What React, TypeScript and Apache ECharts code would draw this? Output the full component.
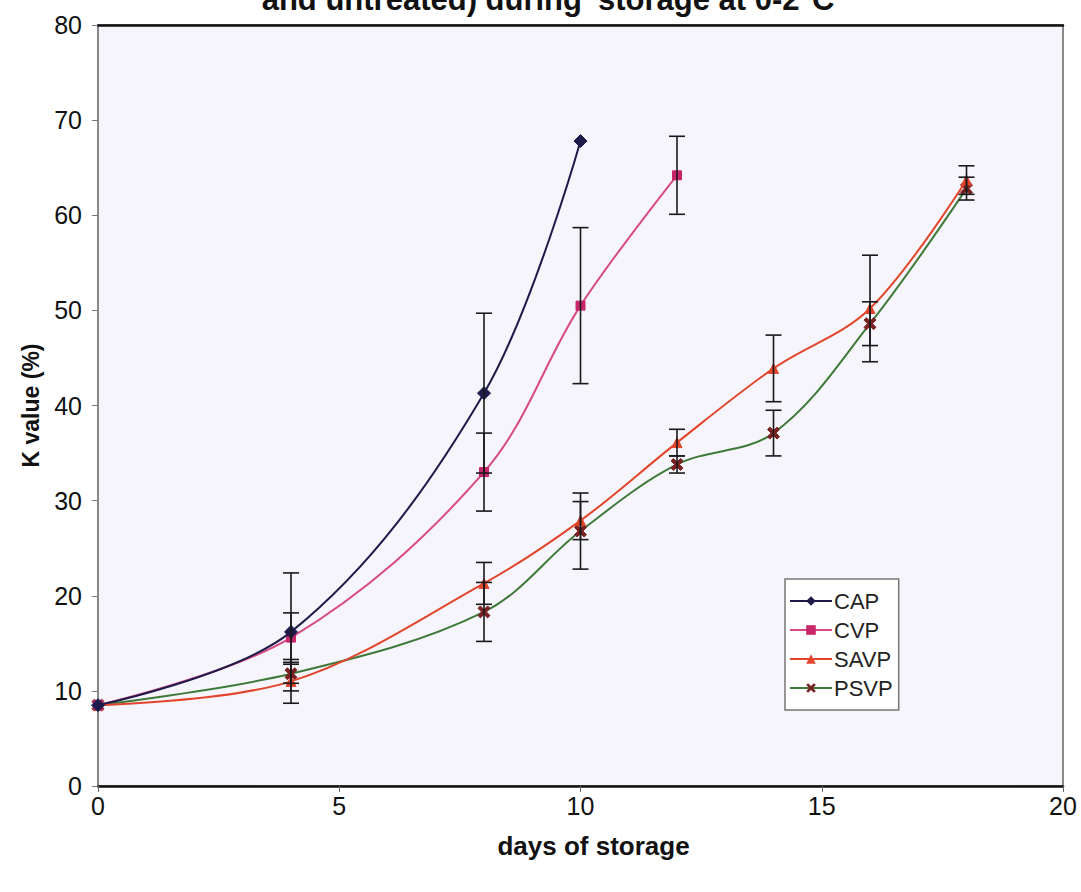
import React, { useEffect, useRef } from "react";
import * as echarts from "echarts";

// ---- Data ----
const capDays = [0, 4, 8, 10];
const capK = [8.5, 16.2, 41.3, 67.8];
const capErr = [0, 6.2, 8.4, 0];

const cvpDays = [0, 4, 8, 10, 12];
const cvpK = [8.5, 15.6, 33.0, 50.5, 64.2];
const cvpErr = [0, 2.6, 4.1, 8.2, 4.1];

const savpDays = [0, 4, 8, 10, 12, 14, 16, 18];
const savpK = [8.5, 11.0, 21.3, 27.9, 36.1, 43.9, 50.2, 63.7];
const savpErr = [0, 2.3, 2.2, 2.0, 1.4, 3.5, 5.6, 1.5];

const psvpDays = [0, 4, 8, 10, 12, 14, 16, 18];
const psvpK = [8.5, 11.8, 18.3, 26.8, 33.8, 37.1, 48.6, 62.8];
const psvpErr = [0, 1.0, 3.1, 4.0, 0.9, 2.4, 2.3, 1.2];

const xTicks = [0, 5, 10, 15, 20];
const yTicks = [0, 10, 20, 30, 40, 50, 60, 70, 80];

const titleText = "and untreated) during 'storage at 0-2°C";
const xName = "days of storage";
const yName = "K value (%)";

const FONT = "'Liberation Sans', Arial, Helvetica, sans-serif";

const pairs = (xs: number[], ys: number[]) => xs.map((x, i) => [x, ys[i]]);
const errData = (xs: number[], ys: number[], es: number[]) =>
  xs
    .map((x, i) => [x, ys[i] - es[i], ys[i] + es[i]])
    .filter((d, i) => es[i] > 0);

const renderErr = (params: any, api: any) => {
  const x = api.value(0);
  const lo = api.coord([x, api.value(1)]);
  const hi = api.coord([x, api.value(2)]);
  const hw = 8;
  const style = { stroke: "#1a1a1a", lineWidth: 1.6 };
  return {
    type: "group",
    children: [
      { type: "line", shape: { x1: lo[0], y1: lo[1], x2: hi[0], y2: hi[1] }, style },
      { type: "line", shape: { x1: lo[0] - hw, y1: lo[1], x2: lo[0] + hw, y2: lo[1] }, style },
      { type: "line", shape: { x1: hi[0] - hw, y1: hi[1], x2: hi[0] + hw, y2: hi[1] }, style },
    ],
  };
};

const X_SYMBOL =
  "path://M0,2L2,0L5,3L8,0L10,2L7,5L10,8L8,10L5,7L2,10L0,8L3,5Z";

export default function App() {
  const ref = useRef<HTMLDivElement>(null);
  useEffect(() => {
    if (!ref.current) return;
    const chart = echarts.init(ref.current, undefined, { renderer: "svg" });
    const lineBase = (name: string, color: string, data: number[][], symbol: string, size: number, markerColor: string, z: number) => ({
      name,
      type: "line",
      data,
      smooth: 0.35,
      symbol,
      symbolSize: size,
      showSymbol: true,
      lineStyle: { color, width: 2 },
      itemStyle: { color: markerColor, borderColor: markerColor },
      z,
    });
    chart.setOption({
      animation: false,
      backgroundColor: "#ffffff",
      textStyle: { fontFamily: FONT },
      graphic: [
        {
          type: "text",
          x: 548,
          y: 15,
          style: {
            text: titleText,
            font: `bold 31px ${FONT}`,
            fill: "#111",
            textAlign: "center",
            textVerticalAlign: "bottom",
          },
        },
      ],
      grid: {
        left: 98,
        right: 18,
        top: 25,
        bottom: 106,
        show: true,
        backgroundColor: "#f5f5fb",
        borderColor: "#8a8a8a",
        borderWidth: 2,
      },
      legend: {
        data: ["CAP", "CVP", "SAVP", "PSVP"],
        orient: "vertical",
        left: 785,
        top: 579,
        itemWidth: 42,
        itemHeight: 12,
        itemGap: 7,
        padding: [11, 6, 11, 4],
        backgroundColor: "#ffffff",
        borderColor: "#777",
        borderWidth: 1.5,
        borderRadius: 0,
        textStyle: { fontSize: 22, color: "#222", fontFamily: FONT, padding: [0, 0, 0, -3] },
      },
      xAxis: [
        {
          type: "value",
          min: 0,
          max: 20,
          interval: 5,
          name: xName,
          nameLocation: "middle",
          nameGap: 47,
          nameTextStyle: { fontSize: 26, fontWeight: "bold", color: "#111", fontFamily: FONT, padding: [0, 0, 0, 26] },
          axisLine: { lineStyle: { color: "#111", width: 2.5 } },
          axisTick: { show: true, length: 6, lineStyle: { color: "#666" } },
          axisLabel: {
            fontSize: 25,
            color: "#111",
            margin: 7,
            formatter: (v: number) => (xTicks.includes(v) ? String(v) : ""),
          },
          splitLine: { show: false },
        },
        {
          type: "value",
          position: "top",
          min: 0,
          max: 20,
          interval: 5,
          axisLine: { show: true, lineStyle: { color: "#111", width: 2.5 } },
          axisTick: { show: false },
          axisLabel: { show: false },
          splitLine: { show: false },
        },
      ],
      yAxis: {
        type: "value",
        min: 0,
        max: 80,
        interval: 10,
        name: yName,
        nameLocation: "middle",
        nameGap: 56,
        nameTextStyle: { fontSize: 23, fontWeight: "bold", color: "#111", fontFamily: FONT },
        axisLine: { show: true, lineStyle: { color: "#888", width: 2 } },
        axisTick: { show: true, length: 6, lineStyle: { color: "#777" } },
        axisLabel: {
          fontSize: 25,
          color: "#111",
          margin: 16,
          formatter: (v: number) => (yTicks.includes(v) ? String(v) : ""),
        },
        splitLine: { show: false },
      },
      series: [
        lineBase("PSVP", "#3f7a3a", pairs(psvpDays, psvpK), X_SYMBOL, 12, "#7a2222", 2),
        lineBase("SAVP", "#e2452c", pairs(savpDays, savpK), "triangle", 10, "#e2452c", 3),
        lineBase("CVP", "#d84a83", pairs(cvpDays, cvpK), "rect", 9, "#c8266a", 4),
        lineBase("CAP", "#1e1b4b", pairs(capDays, capK), "diamond", 13, "#1e1b4b", 5),
        { type: "custom", name: "errCAP", data: errData(capDays, capK, capErr), renderItem: renderErr, z: 6, silent: true },
        { type: "custom", name: "errCVP", data: errData(cvpDays, cvpK, cvpErr), renderItem: renderErr, z: 6, silent: true },
        { type: "custom", name: "errSAVP", data: errData(savpDays, savpK, savpErr), renderItem: renderErr, z: 6, silent: true },
        { type: "custom", name: "errPSVP", data: errData(psvpDays, psvpK, psvpErr), renderItem: renderErr, z: 6, silent: true },
      ],
    });
    return () => chart.dispose();
  }, []);
  return (
    <div
      ref={ref}
      style={{ position: "fixed", left: 0, top: 0, width: 1081, height: 892, background: "#fff" }}
    />
  );
}
